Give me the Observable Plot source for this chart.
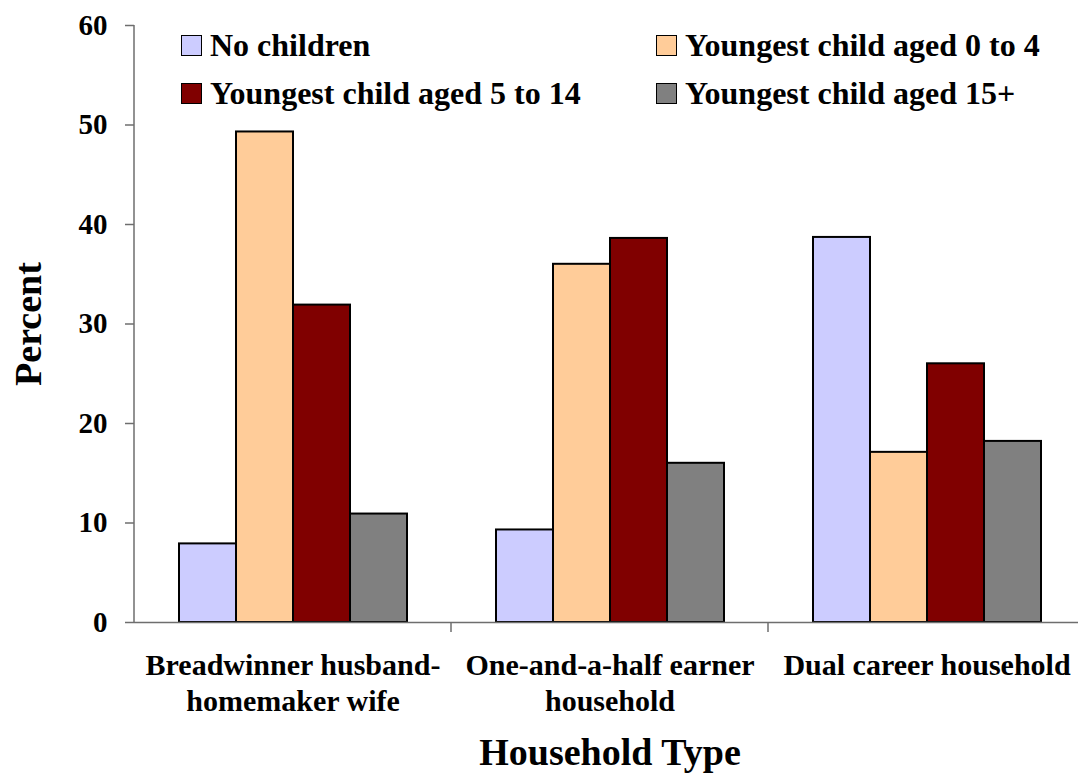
<!DOCTYPE html>
<html>
<head>
<meta charset="utf-8">
<script src="https://cdn.jsdelivr.net/npm/d3@7"></script>
<script src="https://cdn.jsdelivr.net/npm/@observablehq/plot@0.6"></script>
<style>
html, body { margin: 0; padding: 0; background: #fff; overflow: hidden; width: 1078px; height: 775px; }
#wrap { position: relative; width: 1078px; height: 775px; overflow: hidden;
  font-family: "Liberation Serif", "DejaVu Serif", "Times New Roman", Times, serif; font-weight: bold; color: #000; }
#wrap svg { position: absolute; left: 0; top: 0; }
.leg { position: absolute; display: flex; align-items: center; height: 34px; font-size: 32px; white-space: nowrap; line-height: 34px; }
.sw { width: 19px; height: 19px; border: 1.5px solid #000; margin-right: 8px; flex: none; }
</style>
</head>
<body>
<div id="wrap"></div>
<script>
// ---- data ----
const categories = [
  "Breadwinner husband-homemaker wife",
  "One-and-a-half earner household",
  "Dual career household"
];
const tickLabels = [
  "Breadwinner husband-\nhomemaker wife",
  "One-and-a-half earner\nhousehold",
  "Dual career household"
];
const series = [
  "No children",
  "Youngest child aged 0 to 4",
  "Youngest child aged 5 to 14",
  "Youngest child aged 15+"
];
const colors = ["#CCCCFF", "#FFCC99", "#800000", "#808080"];
const noChildren = [7.9, 9.3, 38.7];
const age0to4   = [49.3, 36.0, 17.1];
const age5to14  = [31.9, 38.6, 26.0];
const age15plus = [10.9, 16.0, 18.2];
const yTicks = [0, 10, 20, 30, 40, 50, 60];
const xTitle = ["Household Type"];
const yTitle = ["Percent"];

const seriesValues = [noChildren, age0to4, age5to14, age15plus];
const data = [];
categories.forEach((c, i) => series.forEach((s, j) => data.push({category: c, series: s, value: seriesValues[j][i]})));
const labelOf = new Map(categories.map((c, i) => [c, tickLabels[i]]));

const font = "'Liberation Serif', 'DejaVu Serif', 'Times New Roman', Times, serif";
const axisGray = "#6e6e6e";

const plot = Plot.plot({
  width: 1086,
  height: 775,
  marginLeft: 133,
  marginRight: 0,
  marginTop: 25,
  marginBottom: 153,
  style: {fontFamily: font, fontWeight: "bold", background: "white", color: "#000"},
  fx: {domain: categories, padding: 0, label: null},
  x: {domain: series, paddingInner: 0, paddingOuter: 0.76, axis: null},
  y: {domain: [0, 60], label: null},
  color: {domain: series, range: colors},
  marks: [
    Plot.barY(data, {fx: "category", x: "series", y: "value", fill: "series", stroke: "#000", strokeWidth: 2}),
    Plot.ruleY([0], {stroke: axisGray, strokeWidth: 1.5}),
    Plot.axisY({ticks: yTicks, tickSize: 9, tickPadding: 18, fontSize: 29, label: null, stroke: axisGray, fill: "#000", strokeWidth: 1.5}),
    Plot.axisFx({anchor: "bottom", tickSize: 0, tickPadding: 27, fontSize: 30, label: null, lineHeight: 1.2,
      tickFormat: d => labelOf.get(d), fill: "#000"}),
    Plot.text(xTitle, {fx: () => categories[1], frameAnchor: "bottom", text: d => d, dy: 130, lineAnchor: "middle",
      fontSize: 38, fontWeight: "bold", fill: "#000"}),
    Plot.text(yTitle, {fx: () => categories[0], frameAnchor: "left", text: d => d, dx: -106, rotate: -90, lineAnchor: "middle",
      textAnchor: "middle", fontSize: 38, fontWeight: "bold", fill: "#000"})
  ]
});

// axis line on the left and category boundary ticks, positioned with Plot's own scales
const fx = plot.scale("fx");
const ys = plot.scale("y");
const svg = d3.select(plot);
const g = svg.append("g").attr("stroke", axisGray).attr("stroke-width", 1.5);
const x0 = fx.apply(categories[0]);
g.append("line").attr("x1", x0).attr("x2", x0).attr("y1", ys.apply(0)).attr("y2", ys.apply(60));
categories.slice(0, -1).forEach(c => {
  const xb = fx.apply(c) + fx.bandwidth;
  g.append("line").attr("x1", xb).attr("x2", xb).attr("y1", ys.apply(0)).attr("y2", ys.apply(0) + 10);
});

// crop the plot to the page width without rescaling
plot.removeAttribute("viewBox");
plot.setAttribute("width", 1078);
plot.style.maxWidth = "none";

const wrap = document.getElementById("wrap");
wrap.appendChild(plot);

// legend (two columns, two rows), inside the plot area
const legendPos = [[181, 28], [656, 28], [181, 76], [656, 76]];
series.forEach((s, j) => {
  const d = document.createElement("div");
  d.className = "leg";
  d.style.left = legendPos[j][0] + "px";
  d.style.top = legendPos[j][1] + "px";
  const sw = document.createElement("span");
  sw.className = "sw";
  sw.style.background = colors[j];
  const t = document.createElement("span");
  t.textContent = s;
  d.appendChild(sw);
  d.appendChild(t);
  wrap.appendChild(d);
});
</script>
</body>
</html>
